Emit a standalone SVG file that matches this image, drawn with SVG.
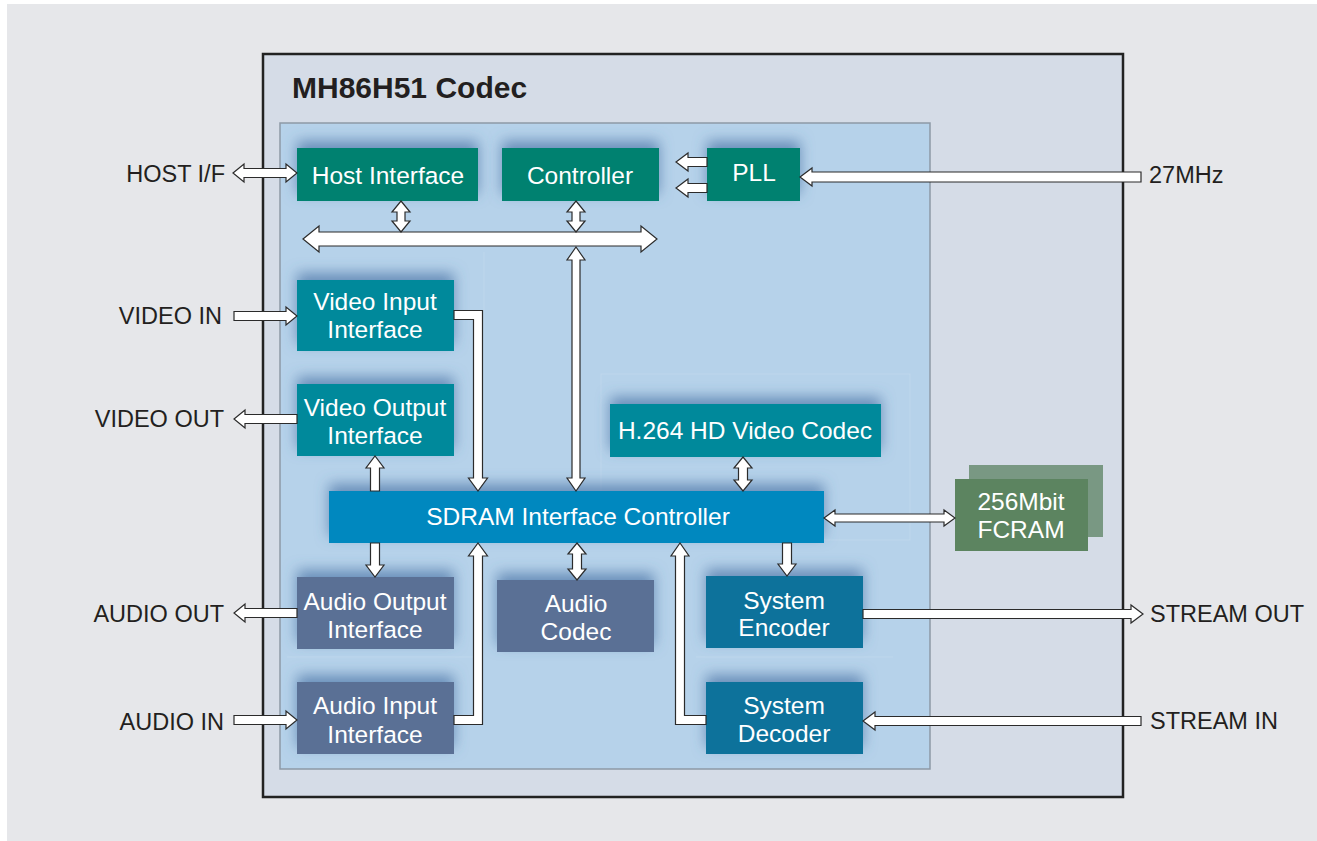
<svg xmlns="http://www.w3.org/2000/svg" width="1317" height="841" viewBox="0 0 1317 841">
<defs>
<style>
.lbl{font-family:"Liberation Sans",Arial,sans-serif;font-size:23.5px;fill:#231f20}
.nt{font-family:"Liberation Sans",Arial,sans-serif;font-size:24.5px;fill:#ffffff;text-anchor:middle}
.ar{fill:#ffffff;stroke:#2b2b2b;stroke-width:1.2;stroke-linejoin:miter}
.cell{fill:none;stroke:#c6dcef;stroke-width:1;opacity:0.6}
</style>
<filter id="glow" x="-25%" y="-80%" width="150%" height="220%">
<feGaussianBlur in="SourceAlpha" stdDeviation="7"/>
<feOffset dy="-7" result="b"/>
<feFlood flood-color="#4670a3" flood-opacity="0.7"/>
<feComposite in2="b" operator="in"/>
<feMerge><feMergeNode/><feMergeNode in="SourceGraphic"/></feMerge>
</filter>
</defs>
<rect x="0" y="0" width="1317" height="841" fill="#ffffff"/>
<rect x="7" y="4" width="1310" height="837" fill="#e6e7ea"/>
<g id="chip">
<rect x="263" y="54" width="860" height="743" fill="#d5dce7" stroke="#222" stroke-width="2.5"/>
<text x="292" y="98" font-family="'Liberation Sans',Arial,sans-serif" font-size="30" font-weight="bold" fill="#231f20">MH86H51 Codec</text>
<rect x="280" y="123" width="650" height="646" fill="#b6d2ea" stroke="#8d99a6" stroke-width="1.5"/>
<rect class="cell" x="601" y="374" width="309" height="166"/>
<line class="cell" x1="287" y1="657" x2="473" y2="657"/>
<line class="cell" x1="696" y1="657" x2="893" y2="657"/>
<line class="cell" x1="484" y1="252" x2="484" y2="480"/>
</g>
<g id="host-interface"><rect x="297" y="148" width="181" height="53" fill="#00816f" filter="url(#glow)"/><text class="nt" x="388" y="184">Host Interface</text></g>
<g id="controller"><rect x="502" y="148" width="157" height="53" fill="#00816f" filter="url(#glow)"/><text class="nt" x="580" y="184">Controller</text></g>
<g id="pll"><rect x="707" y="148" width="93" height="53" fill="#00816f" filter="url(#glow)"/><text class="nt" x="754" y="181">PLL</text></g>
<g id="video-input"><rect x="297" y="280" width="157" height="71" fill="#00899b" filter="url(#glow)"/><text class="nt" x="375" y="310">Video Input</text><text class="nt" x="375" y="338">Interface</text></g>
<g id="video-output"><rect x="297" y="384" width="157" height="72" fill="#00899b" filter="url(#glow)"/><text class="nt" x="375" y="416">Video Output</text><text class="nt" x="375" y="444">Interface</text></g>
<g id="h264"><rect x="610" y="404" width="271" height="53" fill="#00899b" filter="url(#glow)"/><text class="nt" x="745" y="439">H.264 HD Video Codec</text></g>
<g id="sdram"><rect x="329" y="491" width="495" height="52" fill="#0088bf" filter="url(#glow)"/><text class="nt" x="578" y="525">SDRAM Interface Controller</text></g>
<g id="fcram"><rect x="969" y="465" width="134" height="72" fill="#799883"/><rect x="955" y="479" width="133" height="72" fill="#5c8460"/><text class="nt" x="1021" y="510">256Mbit</text><text class="nt" x="1021" y="538">FCRAM</text></g>
<g id="audio-output"><rect x="297" y="577" width="157" height="72" fill="#5a6f95" filter="url(#glow)"/><text class="nt" x="375" y="610">Audio Output</text><text class="nt" x="375" y="638">Interface</text></g>
<g id="audio-input"><rect x="297" y="682" width="157" height="72" fill="#5a6f95" filter="url(#glow)"/><text class="nt" x="375" y="714">Audio Input</text><text class="nt" x="375" y="743">Interface</text></g>
<g id="audio-codec"><rect x="497" y="580" width="157" height="72" fill="#5a6f95" filter="url(#glow)"/><text class="nt" x="576" y="612">Audio</text><text class="nt" x="576" y="640">Codec</text></g>
<g id="system-encoder"><rect x="706" y="576" width="157" height="72" fill="#0f729b" filter="url(#glow)"/><text class="nt" x="784" y="609">System</text><text class="nt" x="784" y="636">Encoder</text></g>
<g id="system-decoder"><rect x="706" y="682" width="157" height="72" fill="#0f729b" filter="url(#glow)"/><text class="nt" x="784" y="714">System</text><text class="nt" x="784" y="742">Decoder</text></g>
<g id="connectors">
<path class="ar" d="M233,173 L244,164 L244,168.5 L286,168.5 L286,164 L297,173 L286,182 L286,177.5 L244,177.5 L244,182 Z"/>
<path class="ar" d="M707,157.5 L688,157.5 L688,153 L676,162 L688,171 L688,166.5 L707,166.5 Z"/>
<path class="ar" d="M707,183.5 L688,183.5 L688,179 L676,188 L688,197 L688,192.5 L707,192.5 Z"/>
<path class="ar" d="M1141,172 L812,172 L812,168 L800,177 L812,186 L812,182 L1141,182 Z"/>
<path class="ar" d="M303,239 L319,226 L319,232 L641,232 L641,226 L657,239 L641,252 L641,246 L319,246 L319,252 Z"/>
<path class="ar" d="M401,201 L410,212 L405,212 L405,221 L410,221 L401,232 L392,221 L397,221 L397,212 L392,212 Z"/>
<path class="ar" d="M576,201 L585,212 L580,212 L580,221 L585,221 L576,232 L567,221 L572,221 L572,212 L567,212 Z"/>
<path class="ar" d="M576,247 L585,260 L580,260 L580,478 L585,478 L576,491 L567,478 L572,478 L572,260 L567,260 Z"/>
<path class="ar" d="M234,311.5 L286,311.5 L286,307 L297,316 L286,325 L286,320.5 L234,320.5 Z"/>
<path class="ar" d="M297,414.5 L245,414.5 L245,410 L234,419 L245,428 L245,423.5 L297,423.5 Z"/>
<path class="ar" d="M454,310.5 L482.5,310.5 L482.5,478 L487.5,478 L478,491 L468.5,478 L473.5,478 L473.5,319.5 L454,319.5 Z"/>
<path class="ar" d="M370.5,491 L370.5,468 L366,468 L375,456 L384,468 L379.5,468 L379.5,491 Z"/>
<path class="ar" d="M743,457 L752,468 L747.5,468 L747.5,480 L752,480 L743,491 L734,480 L738.5,480 L738.5,468 L734,468 Z"/>
<path class="ar" d="M824,518 L835,510 L835,514 L944,514 L944,510 L955,518 L944,526 L944,522 L835,522 L835,526 Z"/>
<path class="ar" d="M370.5,543 L370.5,565 L366,565 L375,577 L384,565 L379.5,565 L379.5,543 Z"/>
<path class="ar" d="M454,724.5 L482.5,724.5 L482.5,556 L487.5,556 L478,543 L468.5,556 L473.5,556 L473.5,715.5 L454,715.5 Z"/>
<path class="ar" d="M577,543 L586,554 L581.5,554 L581.5,569 L586,569 L577,580 L568,569 L572.5,569 L572.5,554 L568,554 Z"/>
<path class="ar" d="M297,608.5 L245,608.5 L245,604 L234,613 L245,622 L245,617.5 L297,617.5 Z"/>
<path class="ar" d="M234,715.5 L286,715.5 L286,711 L297,720 L286,729 L286,724.5 L234,724.5 Z"/>
<path class="ar" d="M782.5,543 L782.5,564 L778,564 L787,576 L796,564 L791.5,564 L791.5,543 Z"/>
<path class="ar" d="M706,715.5 L684.5,715.5 L684.5,556 L689,556 L680,543 L671,556 L675.5,556 L675.5,724.5 L706,724.5 Z"/>
<path class="ar" d="M863,609.5 L1131,609.5 L1131,605 L1143,614 L1131,623 L1131,618.5 L863,618.5 Z"/>
<path class="ar" d="M1141,716.5 L875,716.5 L875,712 L863,721 L875,730 L875,725.5 L1141,725.5 Z"/>
</g>
<g id="labels">
<text class="lbl" x="225" y="182" text-anchor="end">HOST I/F</text>
<text class="lbl" x="222" y="324" text-anchor="end">VIDEO IN</text>
<text class="lbl" x="224" y="427" text-anchor="end">VIDEO OUT</text>
<text class="lbl" x="224" y="622" text-anchor="end">AUDIO OUT</text>
<text class="lbl" x="224" y="730" text-anchor="end">AUDIO IN</text>
<text class="lbl" x="1149" y="183">27MHz</text>
<text class="lbl" x="1150" y="622">STREAM OUT</text>
<text class="lbl" x="1150" y="729">STREAM IN</text>
</g>
</svg>
